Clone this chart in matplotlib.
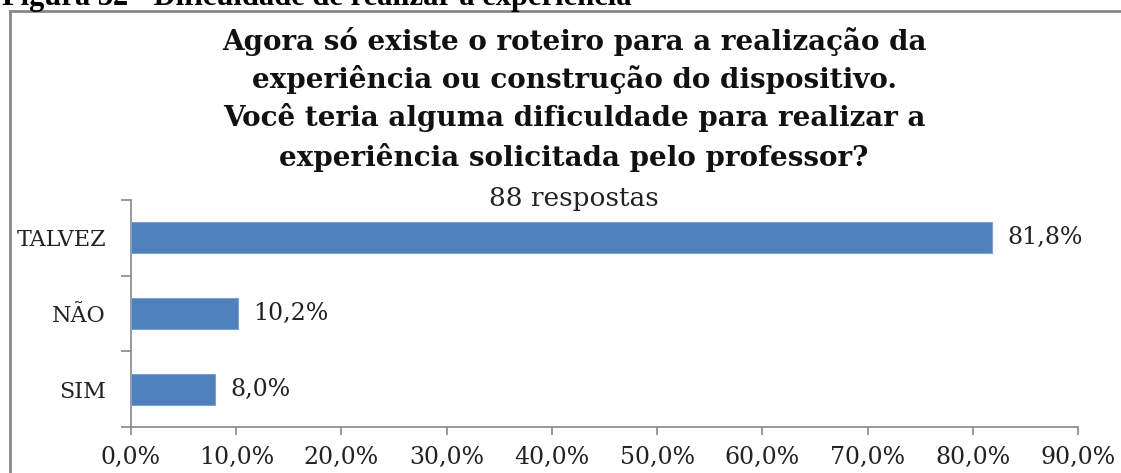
import matplotlib
matplotlib.use("Agg")
import matplotlib.pyplot as plt
from matplotlib.lines import Line2D

categories = ["SIM", "NÃO", "TALVEZ"]
values = [8.0, 10.2, 81.8]
value_labels = ["8,0%", "10,2%", "81,8%"]
xticks = [0, 10, 20, 30, 40, 50, 60, 70, 80, 90]
xtick_labels = ["0,0%", "10,0%", "20,0%", "30,0%", "40,0%", "50,0%", "60,0%", "70,0%", "80,0%", "90,0%"]
title_lines = ["Agora só existe o roteiro para a realização da",
               "experiência ou construção do dispositivo.",
               "Você teria alguma dificuldade para realizar a",
               "experiência solicitada pelo professor?"]
subtitle = "88 respostas"
caption = "Figura 32 - Dificuldade de realizar a experiência"

W, H = 1121, 473
fig = plt.figure(figsize=(W / 100, H / 100), dpi=100)
fig.patch.set_facecolor("white")

serif = ["DejaVu Serif"]
gray = "#878787"

ax = fig.add_axes([131 / W, 1 - 427 / H, (1078 - 131) / W, (427 - 200) / H])
ypos = list(range(len(categories)))
ax.barh(ypos, values, height=0.41, color="#4F81BD", edgecolor="#7DA2D2", linewidth=0.8, zorder=3)
ax.set_xlim(0, 90)
ax.set_ylim(-0.5, len(categories) - 0.5)
ax.set_xticks(xticks)
ax.set_xticklabels(xtick_labels, family=serif, fontsize=17, color="#222222")
ax.set_yticks(ypos)
ax.set_yticklabels(categories, family=serif, fontsize=16, color="#222222")
ax.tick_params(axis="y", length=0, pad=18)
ax.set_yticks([-0.5, 0.5, 1.5, 2.5], minor=True)
ax.tick_params(axis="y", which="minor", length=7, color=gray, width=1.2, direction="out")
ax.tick_params(axis="x", length=6, color=gray, width=1.2, direction="out", pad=8)
for s in ["top", "right"]:
    ax.spines[s].set_visible(False)
for s in ["left", "bottom"]:
    ax.spines[s].set_color(gray)
    ax.spines[s].set_linewidth(1.2)

for y, v, lab in zip(ypos, values, value_labels):
    ax.annotate(lab, xy=(v, y), xytext=(11, 0), textcoords="offset points",
                va="center", ha="left", family=serif, fontsize=17, color="#222222")

cx = 574 / W
ys = [41, 79, 118, 157]
for line, yy in zip(title_lines, ys):
    fig.text(cx, 1 - yy / H, line, ha="center", va="center", family=serif,
             fontsize=20, fontweight="bold", color="#111111")
fig.text(cx, 1 - 198 / H, subtitle, ha="center", va="center", family=serif,
         fontsize=19, color="#222222")

fig.text(2 / W, 1 - 5 / H, caption, ha="left", va="baseline",
         family=["Liberation Serif"], fontsize=22, fontweight="bold", color="black")

fig.add_artist(Line2D([10 / W, 10 / W], [0, 1 - 11 / H], transform=fig.transFigure,
                      color=gray, linewidth=2))
fig.add_artist(Line2D([10 / W, 1], [1 - 11 / H, 1 - 11 / H], transform=fig.transFigure,
                      color=gray, linewidth=2))

fig.savefig("out.png", dpi=100)
